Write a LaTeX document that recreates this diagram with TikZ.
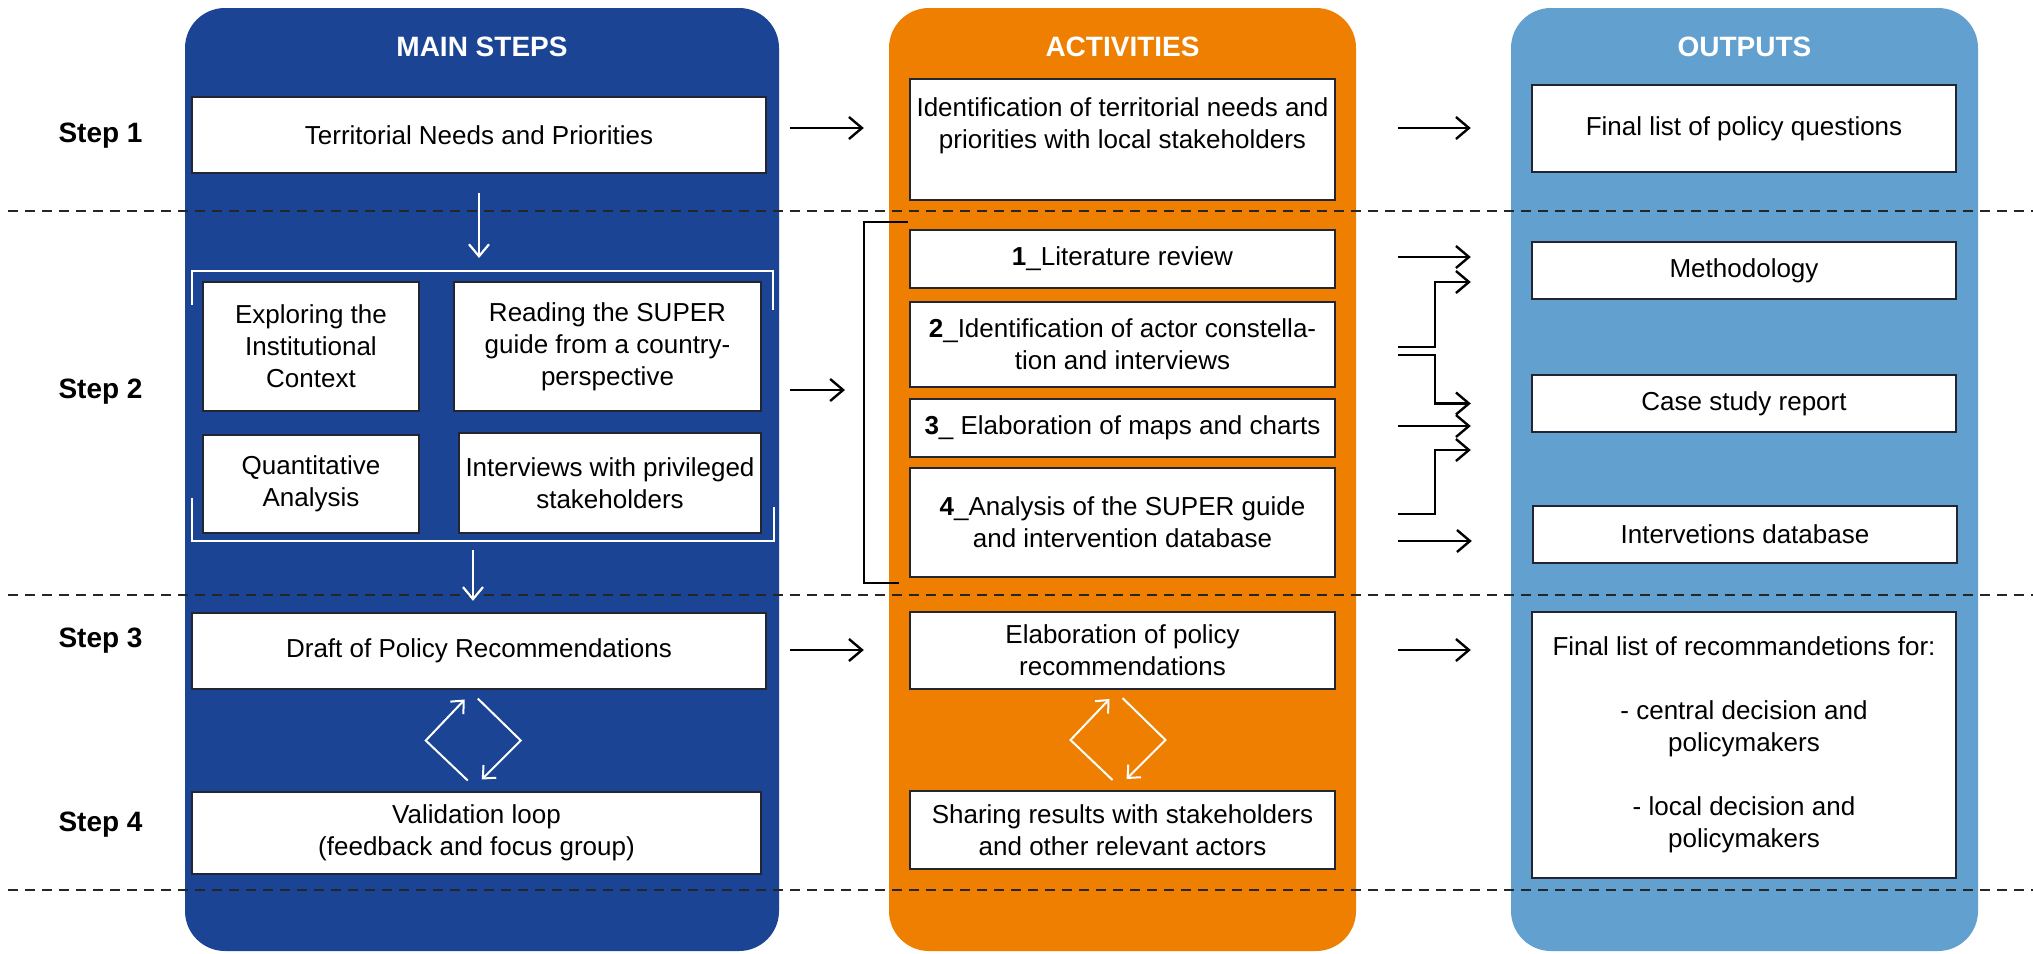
\documentclass[tikz,border=0pt]{standalone}
\usepackage{fontspec}
\setmainfont{Liberation Sans}
\usetikzlibrary{arrows.meta,calc}
\definecolor{mainblue}{RGB}{27,68,148}
\definecolor{actorange}{RGB}{238,127,0}
\definecolor{outblue}{RGB}{98,160,208}
\definecolor{boxline}{RGB}{35,38,48}
\tikzset{
  panel/.style={rounded corners=40pt, minimum height=943pt, inner sep=0pt},
  box/.style={draw=boxline, line width=2.4pt, fill=white, inner xsep=1pt, inner ysep=0pt, align=center, font=\fontsize{26}{32}\selectfont},
  head/.style={text=white, font=\fontsize{28}{34}\selectfont\bfseries},
  steplabel/.style={anchor=west, font=\fontsize{28}{34}\selectfont\bfseries},
  arr/.style={line width=2.4pt, -{Straight Barb[length=13pt,width=22pt]}},
  warr/.style={white, line width=2.2pt, -{Straight Barb[length=12pt,width=20pt]}},
  larr/.style={white, line width=2pt, -{Straight Barb[length=10pt,width=18pt]}},
  wline/.style={white, line width=2.2pt},
  rowline/.style={black!85, line width=2.4pt, dash pattern=on 10pt off 7pt},
}
\begin{document}
\begin{tikzpicture}[x=1pt, y=-1pt]
\useasboundingbox (0,0) rectangle (2033,953);
\fill[white] (0,0) rectangle (2033,953);

\node[panel, fill=mainblue, minimum width=594pt] (pmain) at (482,479.5) {};
\node[panel, fill=actorange, minimum width=467pt] (pact) at (1122.5,479.5) {};
\node[panel, fill=outblue, minimum width=467pt] (pout) at (1744.5,479.5) {};
\node[head] (hmain) at ($(pmain.north)+(0,39)$) {MAIN STEPS};
\node[head] (hact) at ($(pact.north)+(0,39)$) {ACTIVITIES};
\node[head] (hout) at ($(pout.north)+(0,39)$) {OUTPUTS};

\foreach \yy in {211,595,890}
  \draw[rowline] (8,\yy) -- (2033,\yy);

\node[steplabel] (s1) at (55,136) {Step 1};
\node[steplabel] (s2) at (55,392) {Step 2};
\node[steplabel] (s3) at (55,641) {Step 3};
\node[steplabel] (s4) at (55,825) {Step 4};

\node[box, minimum width=574pt, minimum height=76pt] (terr) at (479,135) {Territorial Needs and Priorities};
\node[box, minimum width=216pt, minimum height=129pt] (expl) at (311,346.5) {Exploring the\\Institutional\\Context};
\node[box, minimum width=307pt, minimum height=129pt] (read) at (607.5,346.5) {Reading the SUPER\\guide from a country-\\perspective};
\node[box, minimum width=216pt, minimum height=98pt] (quant) at (311,484) {Quantitative\\Analysis};
\node[box, minimum width=302pt, minimum height=100pt] (intv) at (610,483) {Interviews with privileged\\stakeholders};
\node[box, minimum width=574pt, minimum height=76pt] (draft) at (479,651) {Draft of Policy Recommendations};
\node[box, minimum width=569pt, minimum height=82pt] (valid) at (476.5,833) {Validation loop\\(feedback and focus group)};

\node[box, minimum width=425pt, minimum height=121pt] (ident) at (1122.5,139.5) {Identification of territorial needs and\\priorities with local stakeholders\\~};
\node[box, minimum width=425pt, minimum height=58pt] (lit) at (1122.5,259) {\textbf{1}\_Literature review};
\node[box, minimum width=425pt, minimum height=85pt] (actor) at (1122.5,344.5) {\textbf{2}\_Identification of actor constella-\\tion and interviews};
\node[box, minimum width=425pt, minimum height=58pt] (maps) at (1122.5,428) {\textbf{3}\_ Elaboration of maps and charts};
\node[box, minimum width=425pt, minimum height=109pt] (anal) at (1122.5,522.5) {\textbf{4}\_Analysis of the SUPER guide\\and intervention database};
\node[box, minimum width=425pt, minimum height=77pt] (elab) at (1122.5,650.5) {Elaboration of policy\\recommendations};
\node[box, minimum width=425pt, minimum height=78pt] (share) at (1122.5,830) {Sharing results with stakeholders\\and other relevant actors};

\node[box, minimum width=424pt, minimum height=87pt] (quest) at (1744,128.5) {Final list of policy questions};
\node[box, minimum width=424pt, minimum height=57pt] (meth) at (1744,270.5) {Methodology};
\node[box, minimum width=424pt, minimum height=57pt] (case) at (1744,403.5) {Case study report};
\node[box, minimum width=424pt, minimum height=57pt] (datab) at (1745,534.5) {Intervetions database};
\node[box, minimum width=424pt, minimum height=266pt] (recom) at (1744,745) {Final list of recommandetions for:\\[32pt]- central decision and\\policymakers\\[32pt]- local decision and\\policymakers};

\coordinate (wtop) at (479,271);
\coordinate (wbot) at (473,541);
\draw[wline] (192,305) |- (773,271) -- (773,310);
\draw[wline] (192,498) |- (774,541) -- (774,507);
\draw[warr, shorten <=19pt, shorten >=13pt] (terr.south) -- (wtop);
\draw[warr, shorten <=9pt, shorten >=11pt] (wbot) -- (wbot |- draft.north);

\foreach \ta/\tb in {draft/valid,elab/share}{
  \coordinate (mid) at ($(\ta.south)!0.5!(\tb.north)$);
  \draw[larr] ($(mid)+(-10,40)$) -- ($(mid)+(-52,0)$) -- ($(mid)+(-13,-41)$);
  \draw[larr] ($(mid)+(0,-42)$) -- ($(mid)+(43,0)$) -- ($(mid)+(4,39)$);
}

\coordinate (row1) at (0,128);
\coordinate (row3) at (0,650);
\coordinate (obrk) at (865,390);
\coordinate (bus) at (1435,0);
\draw[line width=2.4pt] ($(lit.north west)+(-1,-7)$) -- ++(-44,0) -- ++(0,361) -- ++(35,0);

\draw[arr, shorten <=23pt, shorten >=45pt] (terr.east |- row1) -- (ident.west |- row1);
\draw[arr, shorten <=62pt, shorten >=60pt] (ident.east |- row1) -- (quest.west |- row1);
\draw[arr, shorten <=23pt, shorten >=20pt] (terr.east |- obrk) -- (obrk);
\draw[arr, shorten <=23pt, shorten >=45pt] (draft.east |- row3) -- (elab.west |- row3);
\draw[arr, shorten <=62pt, shorten >=60pt] (elab.east |- row3) -- (recom.west |- row3);

\draw[arr, shorten <=62pt, shorten >=60pt] ($(lit.east)+(0,-2)$) -- ($(lit.east -| meth.west)+(0,-2)$);
\draw[arr, shorten <=62pt, shorten >=60pt] ($(actor.east)+(0,2.5)$) -| ($(bus |- meth.west)+(0,11.5)$) -- ($(meth.west)+(0,11.5)$);
\draw[arr, shorten <=62pt, shorten >=60pt] ($(actor.east)+(0,10.5)$) -| (bus |- case.west) -- (case.west);
\draw[arr, shorten <=62pt, shorten >=60pt] ($(maps.east)+(0,-2)$) -- ($(maps.east -| case.west)+(0,-2)$);
\draw[arr, shorten <=62pt, shorten >=60pt] ($(anal.east)+(0,-8.5)$) -| ($(bus |- case.west)+(0,46.5)$) -- ($(case.west)+(0,46.5)$);
\draw[arr, shorten <=62pt, shorten >=60pt] ($(anal.east)+(0,18.5)$) -- ($(anal.east -| datab.west)+(0,18.5)$);
\end{tikzpicture}
\end{document}
